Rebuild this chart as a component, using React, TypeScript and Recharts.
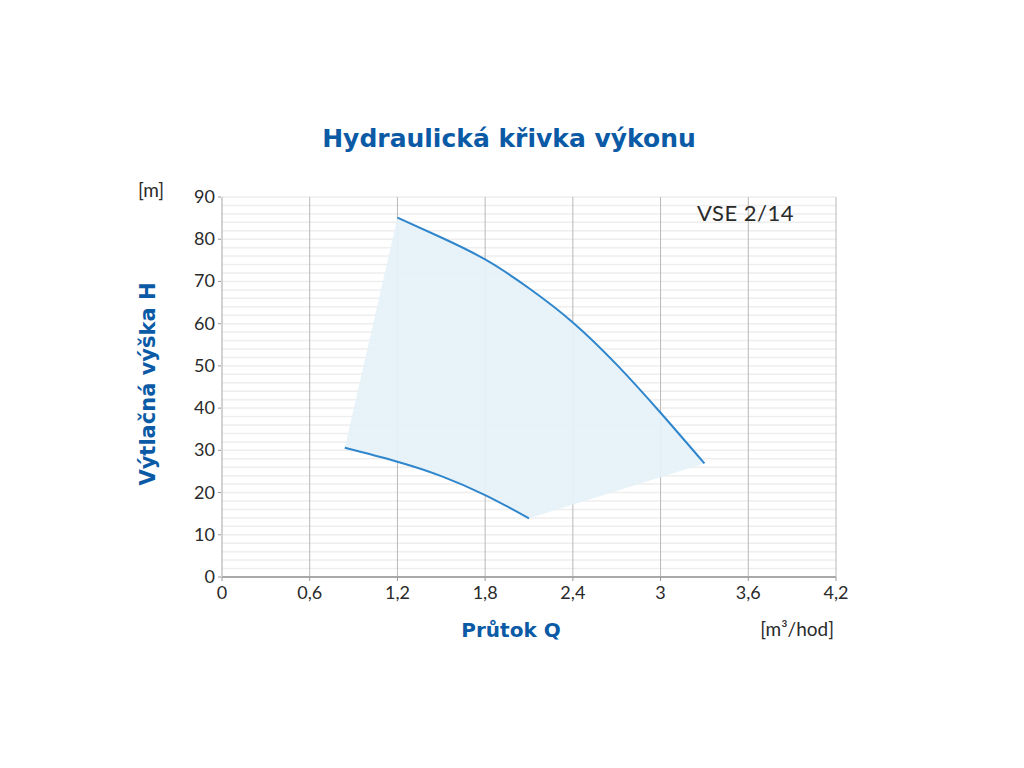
import React from 'react';
import { ScatterChart, Scatter, XAxis, YAxis, CartesianGrid } from 'recharts';

const title = 'Hydraulická křivka výkonu';
const model = 'VSE 2/14';
const yUnit = '[m]';
const xUnit = '[m³/hod]';
const yTitle = 'Výtlačná výška H';
const xTitle = 'Průtok Q';

const xTicks = [0, 0.6, 1.2, 1.8, 2.4, 3, 3.6, 4.2];
// every 2 m a faint grid line; labels only on multiples of 10
const yTicks = [0, 2, 4, 6, 8, 10, 12, 14, 16, 18, 20, 22, 24, 26, 28, 30, 32, 34, 36, 38, 40, 42, 44, 46, 48, 50, 52, 54, 56, 58, 60, 62, 64, 66, 68, 70, 72, 74, 76, 78, 80, 82, 84, 86, 88, 90];

// upper (max speed) curve
const upperQ = [1.2, 1.5, 1.8, 2.1, 2.4, 2.7, 3.0, 3.3];
const upperH = [85.1, 80.4, 75.2, 68.4, 60.3, 50.3, 38.9, 26.9];
// lower (min speed) curve
const lowerQ = [0.84, 1.2, 1.5, 1.8, 2.1];
const lowerH = [30.6, 27.3, 23.9, 19.4, 13.9];

const upper = upperQ.map((q, i) => ({ q, h: upperH[i] }));
const lower = lowerQ.map((q, i) => ({ q, h: lowerH[i] }));
const envelope = [lower[0], ...upper, ...lower.slice().reverse()];

const BLUE = '#0b5aa6';
const LINE = '#2f86cc';
const FONT = 'Lato, "Open Sans", sans-serif';
const BOLD = '"DejaVu Sans", Lato, sans-serif';

const noDot = () => <g />;

const YTick = (props: any) => {
  const { x, y, payload } = props;
  const v = payload.value;
  if (v % 10 !== 0) return <g />;
  return (
    <g>
      <line x1={x + 1} x2={x + 4} y1={y} y2={y} stroke="#999" />
      <text x={x - 2} y={y} dy={6} textAnchor="end" fill="#2a2a2a" fontSize={18} fontFamily={FONT}>
        {v}
      </text>
    </g>
  );
};

export default function App() {
  return (
    <div style={{ position: 'relative', width: 1016, height: 760, fontFamily: FONT }}>
      <ScatterChart width={1016} height={760} margin={{ top: 189, right: 188, bottom: 161, left: 154 }}>
        <CartesianGrid vertical={false} stroke="#eeeeee" strokeWidth={1.5} />
        <CartesianGrid horizontal={false} stroke="#b8b8b8" strokeWidth={1} />
        <XAxis
          type="number"
          dataKey="q"
          domain={[0, 4.2]}
          ticks={xTicks}
          interval={0}
          tickFormatter={(v) => String(v).replace('.', ',')}
          height={30}
          axisLine={{ stroke: '#a9a9a9', strokeWidth: 2 }}
          tickLine={{ stroke: '#999' }}
          tickSize={4}
          tick={{ fill: '#2a2a2a', fontSize: 18, fontFamily: FONT, dy: 3 }}
        />
        <YAxis
          type="number"
          dataKey="h"
          domain={[0, 90]}
          ticks={yTicks}
          interval={0}
          width={60}
          axisLine={{ stroke: '#c8c8c8' }}
          tickLine={false}
          tickSize={3}
          tick={<YTick />}
        />
        <Scatter
          data={envelope}
          shape={noDot}
          line={{ fill: '#e5f2f9', stroke: 'none', fillOpacity: 0.92 }}
          lineType="joint"
          lineJointType="linear"
          isAnimationActive={false}
        />
        <Scatter
          data={upper}
          shape={noDot}
          line={{ stroke: LINE, strokeWidth: 2, fill: 'none' }}
          lineType="joint"
          lineJointType="natural"
          isAnimationActive={false}
        />
        <Scatter
          data={lower}
          shape={noDot}
          line={{ stroke: LINE, strokeWidth: 2, fill: 'none' }}
          lineType="joint"
          lineJointType="natural"
          isAnimationActive={false}
        />
      </ScatterChart>
      <div style={{ position: 'absolute', left: 0, width: 1016, top: 116, textAlign: 'center', color: BLUE, fontWeight: 'bold', fontSize: 25, fontFamily: BOLD }}>
        <span style={{ position: 'relative', left: -7 }}>{title}</span>
      </div>
      <div style={{ position: 'absolute', left: 130, top: 170, fontSize: 19, color: '#2a2a2a' }}>{yUnit}</div>
      <div style={{ position: 'absolute', left: 689, top: 191, fontSize: 22, color: '#2a2a2a', letterSpacing: 0.5 }}>{model}</div>
      <div style={{ position: 'absolute', right: 1016 - 826, top: 609, fontSize: 19, color: '#2a2a2a' }}>{xUnit}</div>
      <div style={{ position: 'absolute', left: 0, width: 1016, top: 610, textAlign: 'center', color: BLUE, fontWeight: 'bold', fontSize: 20, fontFamily: BOLD }}>
        <span style={{ position: 'relative', left: -5 }}>{xTitle}</span>
      </div>
      <div
        style={{
          position: 'absolute',
          left: 140,
          top: 376,
          transform: 'translate(-50%, -50%) rotate(-90deg)',
          whiteSpace: 'nowrap',
          color: BLUE,
          fontWeight: 'bold',
          fontSize: 21,
          fontFamily: BOLD,
        }}
      >
        {yTitle}
      </div>
    </div>
  );
}
